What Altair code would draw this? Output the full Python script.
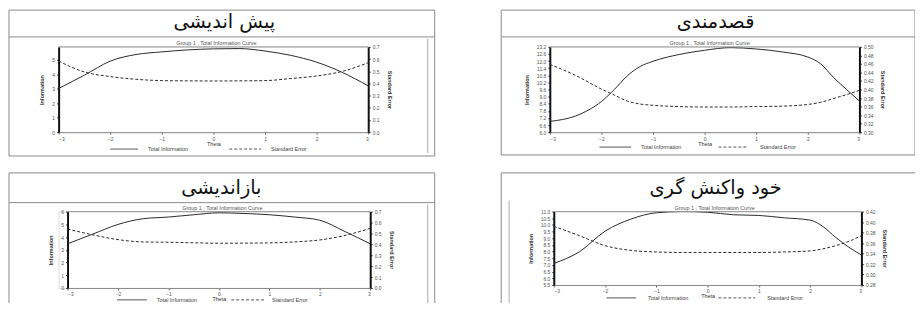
import altair as alt
import pandas as pd

TITLES = ["پیش اندیشی", "قصدمندی", "بازاندیشی", "خود واکنش گری"]
SUBTITLE = "Group 1 , Total Information Curve"
SERIES = ["Total Information", "Standard Error"]
AXIS_TITLES = ["Information", "Standard Error", "Theta"]
X_TICKS = [-3, -2, -1, 0, 1, 2, 3]

# Panel 1 (top-left)
P1_THETA = [-3, -2.5, -2, -1.5, -1, -0.5, 0, 0.5, 1, 1.5, 2, 2.5, 3]
P1_INFO = [3.02, 3.94, 4.91, 5.37, 5.55, 5.69, 5.76, 5.78, 5.61, 5.31, 4.84, 4.13, 3.20]
P1_SE = [0.583, 0.494, 0.456, 0.434, 0.423, 0.421, 0.420, 0.421, 0.423, 0.440, 0.461, 0.499, 0.570]
P1_LEFT = [0, 1, 2, 3, 4, 5]
P1_LEFT_MAX = 5.9
P1_RIGHT = [0.0, 0.1, 0.2, 0.3, 0.4, 0.5, 0.6, 0.7]

# Panel 2 (top-right)
P2_THETA = [-3, -2.5, -2, -1.75, -1.5, -1.25, -1, -0.5, 0, 0.5, 1, 1.5, 2, 2.25, 2.5, 2.75, 3]
P2_INFO = [6.91, 7.37, 8.59, 9.60, 10.75, 11.54, 11.98, 12.55, 12.91, 13.13, 13.02, 12.77, 12.34, 11.76, 10.61, 9.60, 8.63]
P2_SE = [0.459, 0.433, 0.401, 0.387, 0.373, 0.366, 0.363, 0.360, 0.359, 0.359, 0.360, 0.361, 0.365, 0.370, 0.379, 0.388, 0.398]
P2_LEFT = [6.0, 6.6, 7.2, 7.8, 8.4, 9.0, 9.6, 10.2, 10.8, 11.4, 12.0, 12.6, 13.2]
P2_LEFT_MAX = 13.2
P2_RIGHT = [0.30, 0.32, 0.34, 0.36, 0.38, 0.40, 0.42, 0.44, 0.46, 0.48, 0.50]

# Panel 3 (bottom-left)
P3_THETA = [-3, -2.5, -2, -1.5, -1, -0.5, 0, 0.5, 1, 1.5, 2, 2.5, 3]
P3_INFO = [3.47, 4.23, 4.99, 5.44, 5.57, 5.75, 5.90, 5.85, 5.75, 5.57, 5.32, 4.43, 3.47]
P3_SE = [0.540, 0.487, 0.443, 0.422, 0.419, 0.414, 0.410, 0.411, 0.413, 0.422, 0.440, 0.481, 0.546]
P3_LEFT = [0, 1, 2, 3, 4, 5, 6]
P3_LEFT_MAX = 6
P3_RIGHT = [0.0, 0.1, 0.2, 0.3, 0.4, 0.5, 0.6, 0.7]

# Panel 4 (bottom-right)
P4_THETA = [-3, -2.5, -2, -1.5, -1, -0.5, 0, 0.5, 1, 1.5, 2, 2.25, 2.5, 2.75, 3]
P4_INFO = [7.11, 7.99, 9.53, 10.43, 10.91, 11.00, 10.95, 10.76, 10.71, 10.53, 10.36, 9.88, 9.06, 8.34, 7.75]
P4_SE = [0.392, 0.374, 0.355, 0.346, 0.343, 0.342, 0.342, 0.342, 0.342, 0.343, 0.345, 0.349, 0.355, 0.363, 0.374]
P4_LEFT = [5.5, 6.0, 6.5, 7.0, 7.5, 8.0, 8.5, 9.0, 9.5, 10.0, 10.5, 11.0]
P4_LEFT_MAX = 11.0
P4_RIGHT = [0.28, 0.30, 0.32, 0.34, 0.36, 0.38, 0.40, 0.42]

LINE_COLOR = "#2a2a2a"
FRAME = "#8a8a8a"
ONE = alt.InlineData(values=[{"k": 1}])


def hline(x, x2, y, color=FRAME, width=1, dash=None):
    kw = dict(color=color, strokeWidth=width)
    if dash:
        kw["strokeDash"] = dash
    return alt.Chart(ONE).mark_rule(**kw).encode(
        x=alt.value(x), x2=alt.value(x2), y=alt.value(y))


def vline(x, y, y2, color=FRAME, width=1):
    return alt.Chart(ONE).mark_rule(color=color, strokeWidth=width).encode(
        x=alt.value(x), y=alt.value(y), y2=alt.value(y2))


def label(txt, x, y, size, color="#333", font="Liberation Sans", align="center"):
    return alt.Chart(ONE).mark_text(
        align=align, baseline="middle", font=font, fontSize=size, color=color
    ).encode(x=alt.value(x), y=alt.value(y), text=alt.value(txt))


def panel(title, theta, info, se, left_ticks, left_max, left_fmt, right_ticks, right_fmt,
          origin, x_off, w, h, box, sep_y, title_xy, sub_xy, leg, frame=None):
    ox, oy = origin
    X = lambda v: v - ox
    Y = lambda v: v - oy
    W = w + x_off
    df = pd.DataFrame({"theta": theta, "info": info, "se": se})
    ax_common = dict(labelFontSize=5, titleFontSize=5.5, labelPadding=2, tickSize=2,
                     labelColor="#555", titleColor="#333", grid=False, labelFont="Liberation Sans",
                     titleFont="Liberation Sans")
    xenc = alt.X("theta:Q", scale=alt.Scale(domain=[-3, 3], nice=False, range=[x_off, W]),
                 axis=alt.Axis(values=X_TICKS, title=AXIS_TITLES[2], format="d",
                               titlePadding=0, domainColor=FRAME, tickColor="#666",
                               titleFontWeight="normal", **ax_common))
    info_line = alt.Chart(df).mark_line(color=LINE_COLOR, strokeWidth=1, interpolate="monotone").encode(
        x=xenc,
        y=alt.Y("info:Q", scale=alt.Scale(domain=[left_ticks[0], left_max], nice=False, zero=False),
                axis=alt.Axis(values=left_ticks, format=left_fmt, title=AXIS_TITLES[0],
                              titlePadding=7, domainWidth=2, domainColor="#111", tickColor="#333",
                              titleFontWeight="bold", offset=-x_off, **ax_common)),
    )
    se_line = alt.Chart(df).mark_line(color=LINE_COLOR, strokeWidth=1, strokeDash=[3, 2],
                                      interpolate="monotone").encode(
        x=alt.X("theta:Q"),
        y=alt.Y("se:Q", scale=alt.Scale(domain=[right_ticks[0], right_ticks[-1]], nice=False, zero=False),
                axis=alt.Axis(values=right_ticks, format=right_fmt, title=AXIS_TITLES[1],
                              orient="right", titlePadding=7, domainWidth=2, domainColor="#111",
                              tickColor="#333", titleFontWeight="bold", **ax_common)),
    )
    bx, bx2, by, by2 = box
    layers = [info_line, se_line,
              hline(x_off, W, 0, color="#999"),
              alt.Chart(ONE).mark_rect(fillOpacity=0, stroke=FRAME, strokeWidth=1).encode(
                  x=alt.value(X(bx)), x2=alt.value(X(bx2)), y=alt.value(Y(by)), y2=alt.value(Y(by2))),
              label(title, X(title_xy[0]), Y(title_xy[1]), 19.5, color="#111", font="DejaVu Sans"),
              label(SUBTITLE, X(sub_xy[0]), Y(sub_xy[1]), 5.5, color="#555"),
              ]
    if sep_y is not None:
        layers.append(hline(X(bx), X(bx2), Y(sep_y)))
    if frame is not None:
        fx, fy, fy2 = frame
        layers.append(vline(X(fx), Y(fy), Y(fy2), color="#aaaaaa"))
    ly, s1, s2, t1, d1, d2, t2 = leg
    layers += [
        hline(X(s1), X(s2), Y(ly), color="#555"),
        label(SERIES[0], X(t1), Y(ly), 5.5, color="#444", align="left"),
        hline(X(d1), X(d2), Y(ly), color="#555", dash=[3, 2]),
        label(SERIES[1], X(t2), Y(ly), 5.5, color="#444", align="left"),
    ]
    return alt.layer(*layers).resolve_scale(y="independent").properties(width=W, height=h)


p1 = panel(TITLES[0], P1_THETA, P1_INFO, P1_SE, P1_LEFT, P1_LEFT_MAX, "d", P1_RIGHT, ".1f",
           (58, 45), 0, 312, 86, (8, 437, 8, 155), 35, (225, 20), (217, 41.5),
           (148, 110, 138, 148, 230, 262, 272), frame=(430, 37, 152))
p2 = panel(TITLES[1], P2_THETA, P2_INFO, P2_SE, P2_LEFT, P2_LEFT_MAX, ".1f", P2_RIGHT, ".2f",
           (553, 45), 0, 312, 86, (504, 921, 8, 154), 35, (720, 20), (714, 41.5),
           (146, 603, 635, 645, 723, 753, 765))
p3 = panel(TITLES[2], P3_THETA, P3_INFO, P3_SE, P3_LEFT, P3_LEFT_MAX, "d", P3_RIGHT, ".1f",
           (58, 211), 9, 305, 77, (8, 437, 172, 325), 202, (222, 187), (223, 207.7),
           (300, 117, 147, 157, 232, 265, 273), frame=(430, 204, 325))
p4 = panel(TITLES[3], P4_THETA, P4_INFO, P4_SE, P4_LEFT, P4_LEFT_MAX, ".1f", P4_RIGHT, ".2f",
           (557, 211), 0, 310, 74, (504, 930, 172, 325), None, (720, 187), (719, 207.5),
           (298, 610, 640, 652, 723, 760, 772), frame=(512, 200, 325))

top = alt.hconcat(p1, p2, spacing=65)
bottom = alt.hconcat(p3, p4, spacing=65)
chart = alt.vconcat(top, bottom, spacing=15).properties(
    padding={"left": 0, "top": 0, "right": -10, "bottom": -24}
).configure_view(strokeWidth=0).configure(background="white")

chart.save("out.html", embed_options={"renderer": "svg", "actions": False})
